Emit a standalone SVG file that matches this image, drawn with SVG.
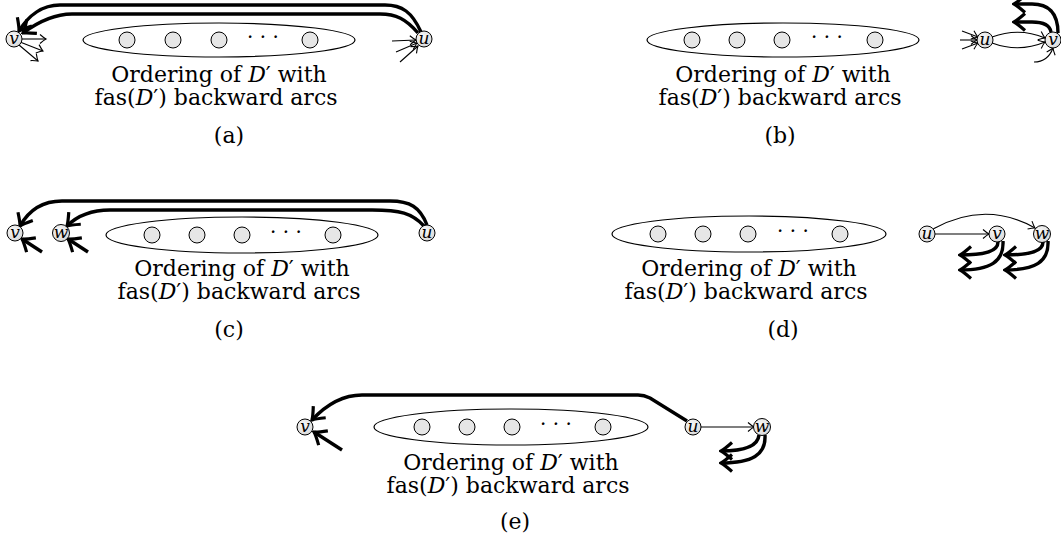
<svg xmlns="http://www.w3.org/2000/svg" width="1061" height="550" viewBox="0 0 1061 550">
<style>
.ell{fill:none;stroke:#000;stroke-width:1.2}
.dot{fill:#e6e6e6;stroke:#000;stroke-width:1}
.nd{stroke:#000;stroke-width:1}
.lbl{font-family:'DejaVu Serif','Liberation Serif',serif;font-style:italic;font-size:17px;text-anchor:middle}
.txt{font-family:'DejaVu Serif','Liberation Serif',serif;font-size:22px;text-anchor:middle}
.dots{font-family:'DejaVu Serif','Liberation Serif',serif;font-size:20px;text-anchor:middle}
.thin{fill:none;stroke:#000;stroke-width:1.1;marker-end:url(#ta)}
.thick{fill:none;stroke:#000;stroke-width:3.4;marker-end:url(#tk)}
</style>
<defs>
<marker id="ta" markerUnits="userSpaceOnUse" viewBox="-8 -6 10 12" refX="0" refY="0" markerWidth="10" markerHeight="12" orient="auto">
<path d="M-6,-4.5 Q-2,-1 0,0 Q-2,1 -6,4.5" fill="none" stroke="#000" stroke-width="1.1"/>
</marker>
<marker id="tk" markerUnits="userSpaceOnUse" viewBox="-13 -10 15 20" refX="0" refY="0" markerWidth="15" markerHeight="20" orient="auto">
<path d="M-11,-8.5 Q-3,-1.5 0,0 Q-3,1.5 -11,8.5" fill="none" stroke="#000" stroke-width="3.2"/>
</marker>
<radialGradient id="g" cx="0.4" cy="0.35" r="0.7"><stop offset="0" stop-color="#f8f8f8"/><stop offset="1" stop-color="#d8d8d8"/></radialGradient>
</defs>

<g id="ordA">
<ellipse class="ell" cx="219" cy="40" rx="136" ry="17"/>
<circle class="dot" cx="127" cy="40" r="8"/><circle class="dot" cx="173" cy="40" r="8"/><circle class="dot" cx="219" cy="40" r="8"/>
<text class="dots" x="263" y="44">· · ·</text><circle class="dot" cx="310" cy="40" r="8"/>
<text class="txt" x="219" y="82">Ordering of <tspan font-style="italic">D</tspan>′ with</text>
<text class="txt" x="216" y="105">fas(<tspan font-style="italic">D</tspan>′) backward arcs</text>
<text class="txt" x="229" y="143">(a)</text>
</g>
<g id="ordB">
<ellipse class="ell" cx="783" cy="40" rx="136" ry="17"/>
<circle class="dot" cx="692" cy="40" r="8"/><circle class="dot" cx="737" cy="40" r="8"/><circle class="dot" cx="782" cy="40" r="8"/>
<text class="dots" x="827" y="44">· · ·</text><circle class="dot" cx="875" cy="40" r="8"/>
<text class="txt" x="783" y="82">Ordering of <tspan font-style="italic">D</tspan>′ with</text>
<text class="txt" x="780" y="105">fas(<tspan font-style="italic">D</tspan>′) backward arcs</text>
<text class="txt" x="780" y="143">(b)</text>
</g>
<g id="ordC">
<ellipse class="ell" cx="242" cy="235" rx="136" ry="18"/>
<circle class="dot" cx="152" cy="235" r="8"/><circle class="dot" cx="197" cy="235" r="8"/><circle class="dot" cx="242" cy="235" r="8"/>
<text class="dots" x="286" y="239">· · ·</text><circle class="dot" cx="333" cy="235" r="8"/>
<text class="txt" x="242" y="276">Ordering of <tspan font-style="italic">D</tspan>′ with</text>
<text class="txt" x="239" y="299">fas(<tspan font-style="italic">D</tspan>′) backward arcs</text>
<text class="txt" x="229" y="337">(c)</text>
</g>
<g id="ordD">
<ellipse class="ell" cx="749" cy="234" rx="137" ry="18"/>
<circle class="dot" cx="658" cy="234" r="8"/><circle class="dot" cx="703" cy="234" r="8"/><circle class="dot" cx="748" cy="234" r="8"/>
<text class="dots" x="793" y="238">· · ·</text><circle class="dot" cx="840" cy="234" r="8"/>
<text class="txt" x="749" y="276">Ordering of <tspan font-style="italic">D</tspan>′ with</text>
<text class="txt" x="746" y="299">fas(<tspan font-style="italic">D</tspan>′) backward arcs</text>
<text class="txt" x="783" y="337">(d)</text>
</g>
<g id="ordE">
<ellipse class="ell" cx="511" cy="427" rx="137" ry="18"/>
<circle class="dot" cx="422" cy="427" r="8"/><circle class="dot" cx="467" cy="427" r="8"/><circle class="dot" cx="512" cy="427" r="8"/>
<text class="dots" x="556" y="431">· · ·</text><circle class="dot" cx="603" cy="427" r="8"/>
<text class="txt" x="511" y="470">Ordering of <tspan font-style="italic">D</tspan>′ with</text>
<text class="txt" x="508" y="493">fas(<tspan font-style="italic">D</tspan>′) backward arcs</text>
<text class="txt" x="515" y="529">(e)</text>
</g>

<g id="connectors">
<path class="thick" d="M421,32 C412,12 402,5 385,5 L60,5 C42,5 28,16 19,31"/>
<path class="thick" d="M418,33 C406,19 396,14 380,14 L72,14 C54,14 38,22 23,33"/>
<path class="thin" d="M21,39 L46,39"/>
<path class="thin" d="M20,42 L43,51"/>
<path class="thin" d="M19,45 L38,61"/>
<path class="thin" d="M392,41 L416,40"/>
<path class="thin" d="M396,52 L417,43"/>
<path class="thin" d="M400,62 L418,46"/>
<path class="thin" d="M962,31 L978,37"/>
<path class="thin" d="M960,40 L977,40"/>
<path class="thin" d="M962,49 L978,43"/>
<path class="thin" d="M992,37 Q1019,27 1045,38"/>
<path class="thin" d="M992,43 Q1019,53 1045,42"/>
<path class="thin" d="M1034,62 C1044,62 1050,56 1053,48"/>
<path class="thick" d="M1058,33 C1058,12 1048,4 1032,4 L1014,4"/>
<path class="thick" d="M1051,32 C1050,26 1044,22 1032,22 L1014,22"/>
<path class="thick" d="M427,225 C420,207 410,201 390,201 L62,201 C42,201 29,210 20,226"/>
<path class="thick" d="M424,226 C412,213 400,210 372,210 L110,210 C92,210 77,216 67,226"/>
<path class="thick" d="M42,252 L22,239"/>
<path class="thick" d="M88,252 L68,239"/>
<path class="thin" d="M935,234 L989,234"/>
<path class="thin" d="M933,229 Q985,200 1035,228"/>
<path class="thick" d="M998,242 C998,251 986,255 960,255"/>
<path class="thick" d="M1003,241 C1004,262 990,270 960,270"/>
<path class="thick" d="M1043,242 C1043,251 1031,255 1005,255"/>
<path class="thick" d="M1048,241 C1049,262 1035,270 1005,270"/>
<path class="thick" d="M687,421 L650,398 C646,396 643,395 638,395 L362,395 C342,395 326,405 312,420"/>
<path class="thick" d="M342,450 L314,432"/>
<path class="thin" d="M701,427 L754,427"/>
<path class="thick" d="M759,435 C758,446 746,451 721,451"/>
<path class="thick" d="M765,435 C766,455 752,463 721,463"/>
</g>

<g id="aV"><circle class="nd" fill="url(#g)" cx="14" cy="39" r="8"/><text class="lbl" x="14" y="44">v</text></g>
<g id="aU"><circle class="nd" fill="url(#g)" cx="424" cy="39" r="8"/><text class="lbl" x="424" y="44">u</text></g>
<g id="bU"><circle class="nd" fill="url(#g)" cx="985" cy="40" r="8"/><text class="lbl" x="985" y="45">u</text></g>
<g id="bV"><circle class="nd" fill="url(#g)" cx="1053" cy="40" r="8"/><text class="lbl" x="1053" y="45">v</text></g>
<g id="cV"><circle class="nd" fill="url(#g)" cx="15" cy="233" r="8"/><text class="lbl" x="15" y="238">v</text></g>
<g id="cW"><circle class="nd" fill="url(#g)" cx="61" cy="233" r="8.5"/><text class="lbl" x="61" y="238">w</text></g>
<g id="cU"><circle class="nd" fill="url(#g)" cx="427" cy="233" r="8"/><text class="lbl" x="427" y="238">u</text></g>
<g id="dU"><circle class="nd" fill="url(#g)" cx="927" cy="234" r="8"/><text class="lbl" x="927" y="239">u</text></g>
<g id="dV"><circle class="nd" fill="url(#g)" cx="997" cy="234" r="8"/><text class="lbl" x="997" y="239">v</text></g>
<g id="dW"><circle class="nd" fill="url(#g)" cx="1042" cy="234" r="8.5"/><text class="lbl" x="1042" y="239">w</text></g>
<g id="eV"><circle class="nd" fill="url(#g)" cx="305" cy="427" r="8"/><text class="lbl" x="305" y="432">v</text></g>
<g id="eU"><circle class="nd" fill="url(#g)" cx="693" cy="427" r="8"/><text class="lbl" x="693" y="432">u</text></g>
<g id="eW"><circle class="nd" fill="url(#g)" cx="762" cy="427" r="8.5"/><text class="lbl" x="762" y="432">w</text></g>
</svg>
